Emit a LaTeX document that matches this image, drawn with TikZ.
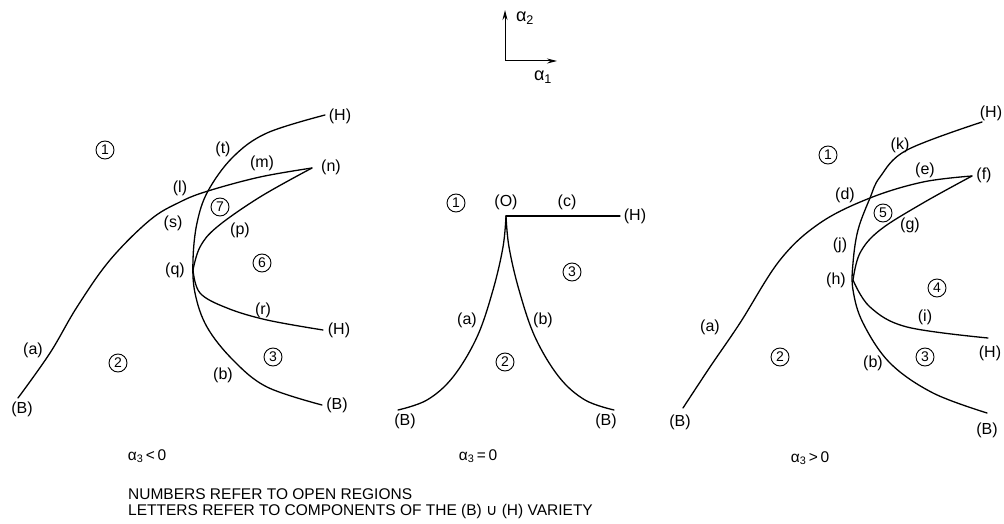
\documentclass[tikz,border=0pt]{standalone}
\usepackage{fontspec}
\setmainfont{Liberation Sans}
\newfontfamily\symfont{DejaVu Sans}
\usetikzlibrary{arrows.meta}
\begin{document}
\begin{tikzpicture}[x=1pt,y=-1pt,
  curve/.style={line width=1.3pt, line cap=round, line join=round},
  lab/.style={font=\fontsize{16}{16}\selectfont, inner sep=0pt},
  axlab/.style={font=\fontsize{18}{18}\selectfont, inner sep=0pt},
  reg/.style={circle, draw, line width=0.9pt, inner sep=0pt, minimum size=18pt, font=\fontsize{14}{14}\selectfont},
  captxt/.style={font=\fontsize{15.5}{17}\selectfont, inner sep=0pt},
  axis/.style={line width=1pt, -{Stealth[length=10pt,width=5pt]}}]
\useasboundingbox (0,0) rectangle (1004,524);

% axes
\coordinate (O0) at (505,61);
\coordinate (Ay) at (505,10);
\coordinate (Ax) at (557,61);
\draw[axis] (O0) -- (Ay);
\draw[axis] (O0) -- (Ax);
\node[axlab] (a2) at (525,18) {α\textsubscript{2}};
\node[axlab] (a1) at (543,77) {α\textsubscript{1}};

% ---------- left panel ----------
\coordinate (LHt) at (325,115);
\coordinate (LX) at (208,191);
\coordinate (LQ) at (193,270);
\coordinate (LBr) at (322,405);
\coordinate (LBl) at (18,398);
\coordinate (LN) at (312,168);
\coordinate (LHb) at (323,330);
\draw[curve] plot[smooth, tension=0.6] coordinates {(LHt) (267,133) (233,157) (LX) (197,223) (193,260) (195,293) (207,327) (233,360) (267,387) (LBr)};
\draw[curve] plot[smooth, tension=0.6] coordinates {(LBl) (50,353) (77,307) (110,260) (150,220) (180,202) (LX) (260,177) (LN)};
\draw[curve] plot[smooth, tension=0.6] coordinates {(LN) (260,197) (217,227) (200,247) (LQ)};
\draw[curve] plot[smooth, tension=0.6] coordinates {(LQ) (200,293) (227,308) (267,320) (LHb)};
\node[lab] (LlHt) at (340,116) {(H)};
\node[lab] (Llt) at (223,149) {(t)};
\node[lab] (Llm) at (262,163) {(m)};
\node[lab] (Lln) at (331,167) {(n)};
\node[lab] (Lll) at (180,188) {(l)};
\node[lab] (Lls) at (173,223) {(s)};
\node[lab] (Llp) at (240,230) {(p)};
\node[lab] (Llq) at (175,270) {(q)};
\node[lab] (Llr) at (263,310) {(r)};
\node[lab] (LlHb) at (339,330) {(H)};
\node[lab] (Llb) at (223,375) {(b)};
\node[lab] (LlBr) at (337,405) {(B)};
\node[lab] (Lla) at (33,350) {(a)};
\node[lab] (LlBl) at (22,409) {(B)};
\node[reg] (L1) at (105,150) {1};
\node[reg] (L7) at (220,207) {7};
\node[reg] (L6) at (262,263) {6};
\node[reg] (L3) at (273,357) {3};
\node[reg] (L2) at (118,363) {2};
\node[captxt] (Lc) at (147,456) {α\textsubscript{3}\,<\,0};

% ---------- middle panel ----------
\coordinate (MO) at (506,216);
\coordinate (MH) at (620,216);
\coordinate (MBl) at (398,410);
\coordinate (MBr) at (614,410);
\draw[curve] (MO) -- (MH);
\draw[curve] plot[smooth, tension=0.6] coordinates {(MO) (503,247) (493,290) (477,337) (453,377) (427,400) (MBl)};
\draw[curve] plot[smooth, tension=0.6] coordinates {(MO) (509,247) (519,290) (535,337) (559,377) (585,400) (MBr)};
\node[lab] (MlO) at (506,202) {(O)};
\node[lab] (Mlc) at (567,202) {(c)};
\node[lab] (MlH) at (635,216) {(H)};
\node[lab] (Mla) at (467,320) {(a)};
\node[lab] (Mlb) at (543,320) {(b)};
\node[lab] (MlBl) at (405,421) {(B)};
\node[lab] (MlBr) at (606,421) {(B)};
\node[reg] (M1) at (456,203) {1};
\node[reg] (M3) at (572,272) {3};
\node[reg] (M2) at (505,362) {2};
\node[captxt] (Mc) at (478,456) {α\textsubscript{3}\,=\,0};

% ---------- right panel ----------
\coordinate (RHt) at (982,122);
\coordinate (RX) at (870,198);
\coordinate (RQ) at (853,280);
\coordinate (RBr) at (987,413);
\coordinate (RBl) at (683,408);
\coordinate (RF) at (972,176);
\coordinate (RHb) at (988,338);
\draw[curve] plot[smooth, tension=0.6] coordinates {(RHt) (907,150) (880,177) (RX) (858,230) (853,263) (853,290) (863,323) (890,363) (933,393) (RBr)};
\draw[curve] plot[smooth, tension=0.6] coordinates {(RBl) (710,367) (740,323) (780,260) (820,223) (RX) (923,182) (RF)};
\draw[curve] plot[smooth, tension=0.6] coordinates {(RF) (923,203) (880,230) (860,253) (RQ)};
\draw[curve] plot[smooth, tension=0.6] coordinates {(RQ) (870,307) (907,327) (RHb)};
\node[lab] (RlHt) at (991,113) {(H)};
\node[lab] (Rlk) at (900,145) {(k)};
\node[lab] (Rle) at (925,170) {(e)};
\node[lab] (Rlf) at (984,175) {(f)};
\node[lab] (Rld) at (845,195) {(d)};
\node[lab] (Rlg) at (910,225) {(g)};
\node[lab] (Rlj) at (840,245) {(j)};
\node[lab] (Rlh) at (836,280) {(h)};
\node[lab] (Rli) at (925,317) {(i)};
\node[lab] (RlHb) at (990,353) {(H)};
\node[lab] (Rlb) at (873,363) {(b)};
\node[lab] (Rla) at (710,327) {(a)};
\node[lab] (RlBl) at (680,422) {(B)};
\node[lab] (RlBr) at (987,430) {(B)};
\node[reg] (R1) at (828,155) {1};
\node[reg] (R5) at (883,213) {5};
\node[reg] (R4) at (937,288) {4};
\node[reg] (R3) at (925,357) {3};
\node[reg] (R2) at (780,357) {2};
\node[captxt] (Rc) at (810,458) {α\textsubscript{3}\,>\,0};

% caption
\node[captxt, anchor=west] (n1) at (128,494) {NUMBERS REFER TO OPEN REGIONS};
\node[captxt, anchor=west] (n2) at (128,511) {LETTERS REFER TO COMPONENTS OF THE (B) {\symfont ∪} (H) VARIETY};
\end{tikzpicture}
\end{document}
